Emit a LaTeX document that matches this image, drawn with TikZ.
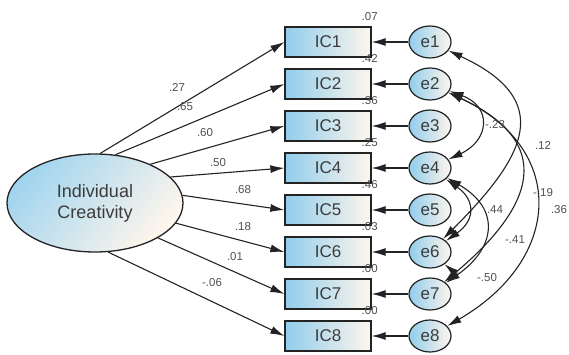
\documentclass[tikz,border=0pt]{standalone}
\usepackage{fontspec}
\setmainfont{Liberation Sans}
\usetikzlibrary{shapes.geometric, arrows.meta}

\definecolor{skyfill}{RGB}{145,205,236}
\definecolor{creamfill}{RGB}{255,246,236}
\definecolor{inkline}{RGB}{35,35,35}
\definecolor{labelgray}{RGB}{80,80,80}
\definecolor{textgray}{RGB}{60,60,60}

\tikzset{
  obs/.style={draw=inkline, line width=1.3pt, minimum width=86pt, minimum height=30pt,
    left color=skyfill, right color=creamfill, text=textgray,
    font=\fontsize{17}{17}\selectfont},
  err/.style={draw=inkline, line width=1.2pt, ellipse, minimum width=42pt,
    minimum height=32pt, inner sep=0pt, left color=skyfill, right color=creamfill,
    text=textgray, font=\fontsize{17}{17}\selectfont},
  latent/.style={draw=inkline, line width=1.3pt, ellipse, minimum width=176pt,
    minimum height=98pt, left color=skyfill!85!white, right color=creamfill,
    shading angle=50, align=center, text=textgray, font=\fontsize{18}{21}\selectfont},
  load/.style={-{Latex[length=14pt,width=8pt]}, line width=1.1pt, draw=inkline},
  cov/.style={{Latex[length=14pt,width=8pt]}-{Latex[length=14pt,width=8pt]},
    line width=1.1pt, draw=inkline},
  coef/.style={font=\fontsize{11.5}{12}\selectfont, text=labelgray, inner sep=0pt}
}

\begin{document}
\begin{tikzpicture}[x=1pt, y=1pt]
  \useasboundingbox (0,0) rectangle (569,354);

  % latent factor
  \node[latent] (creat) at (95,151) {Individual\\Creativity};

  % indicators, errors and R^2 values
  \foreach \i/\r in {1/.07, 2/.42, 3/.36, 4/.25, 5/.46, 6/.03, 7/.00, 8/.00} {
    \node[obs] (ic\i) at (328,354-42*\i) {IC\i};
    \node[err] (e\i) at (430,354-42*\i) {e\i};
    \draw[load] (e\i) -- (ic\i);
    \node[coef] at ([shift={(-2,10)}]ic\i.north east) {\r};
  }

  % loadings, leaving the ellipse at fixed border angles
  \foreach \i/\a/\w/\lx/\ly in {1/84/.27/177/267, 2/67/.65/185/247, 3/35/.60/205/221,
      4/19/.50/218/191, 5/5/.68/243/164, 6/-14/.18/243/127, 7/-29/.01/235/97,
      8/-75/-.06/212/71} {
    \draw[load] (creat.\a) -- (ic\i.west);
    \node[coef] at (\lx,\ly) {\w};
  }

  % error covariances
  \draw[cov] (e2) to[out=-20, in=25, looseness=1.7] (e4);
  \draw[cov] (e1) to[out=-25, in=45, looseness=1.6] (e6);
  \draw[cov] (e2) to[out=-25, in=40, looseness=1.6] (e7);
  \draw[cov] (e2) to[out=-25, in=30, looseness=1.45] (e8);
  \draw[cov] (e4) to[out=-35, in=35, looseness=1.5] (e6);
  \draw[cov] (e4) to[out=-30, in=35, looseness=1.5] (e7);
  \draw[cov] (e6) to[out=-40, in=40, looseness=2.2] (e7);

  \node[coef] at (495,229) {-.23};
  \node[coef] at (543,209) {.12};
  \node[coef] at (543,161) {-.19};
  \node[coef] at (559,144) {.36};
  \node[coef] at (495,144) {.44};
  \node[coef] at (515,114) {-.41};
  \node[coef] at (487,76) {-.50};
\end{tikzpicture}
\end{document}
